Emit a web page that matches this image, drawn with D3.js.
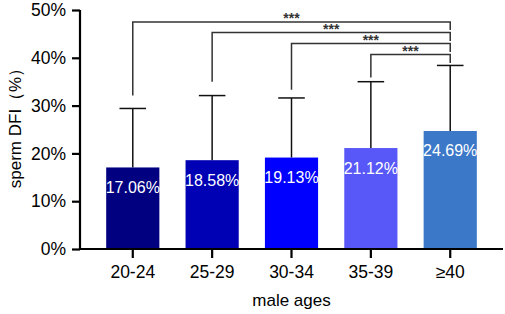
<!DOCTYPE html>
<head>
<meta charset="utf-8">
<title>sperm DFI by male ages</title>
<style>
  body { margin: 0; background: #fff; }
  text { font-family: Arial, "Liberation Sans", sans-serif; }
</style>
</head>
<body>
<svg width="505" height="314"></svg>
<script src="https://d3js.org/d3.v7.min.js"></script>
<script>
const ages = ["20-24", "25-29", "30-34", "35-39", "≥40"];
const dfi = [17.06, 18.58, 19.13, 21.12, 24.69];
const errTop = [29.4, 32.1, 31.6, 35.0, 38.4];
const barColors = ["#000080", "#0000b4", "#0000ff", "#5858f8", "#3b78c8"];
const yTicks = [0, 10, 20, 30, 40, 50];
// each group compared with ≥40, bracket height and left leg bottom (in %)
const comparisons = [
  { from: "20-24", level: 47.5, legEnd: 32.1, label: "***" },
  { from: "25-29", level: 45.3, legEnd: 35.0, label: "***" },
  { from: "30-34", level: 43.0, legEnd: 33.3, label: "***" },
  { from: "35-39", level: 40.7, legEnd: 35.9, label: "***" }
];
const refGroup = "≥40";

const svg = d3.select("svg");

const x = d3.scaleBand().domain(ages).range([80, 503]).padding(0.33);
const y = d3.scaleLinear().domain([0, 50]).range([249, 10]);
const cx = d => x(d) + x.bandwidth() / 2;

const data = ages.map((a, i) => ({ age: a, v: dfi[i], e: errTop[i], c: barColors[i] }));

// error bars (upper only)
const eb = svg.append("g").attr("stroke", "#111").attr("stroke-width", 1.5);
eb.selectAll("line.stem").data(data).join("line")
    .attr("x1", d => cx(d.age)).attr("x2", d => cx(d.age))
    .attr("y1", d => y(d.v)).attr("y2", d => y(d.e));
eb.selectAll("line.cap").data(data).join("line")
    .attr("x1", d => cx(d.age) - x.bandwidth() / 4).attr("x2", d => cx(d.age) + x.bandwidth() / 4)
    .attr("y1", d => y(d.e)).attr("y2", d => y(d.e));

// bars
svg.append("g").selectAll("rect").data(data).join("rect")
    .attr("x", d => x(d.age))
    .attr("y", d => y(d.v))
    .attr("width", x.bandwidth())
    .attr("height", d => y(0) - y(d.v))
    .attr("fill", d => d.c);

svg.append("g").selectAll("text").data(data).join("text")
    .attr("x", d => cx(d.age))
    .attr("y", d => y(d.v) + 25.5)
    .attr("text-anchor", "middle")
    .attr("fill", "#fff")
    .style("font-size", "16px")
    .text(d => d.v.toFixed(2) + "%");

// significance brackets
const br = svg.append("g");
comparisons.forEach((c, i) => {
  const x1 = cx(c.from), x2 = cx(refGroup);
  const yl = y(c.level);
  const rightEnd = i < comparisons.length - 1 ? y(comparisons[i + 1].level) - 2.5 : y(errTop[4]) - 2.5;
  br.append("path")
    .attr("d", `M${x1},${y(c.legEnd)}V${yl}H${x2}V${rightEnd}`)
    .attr("fill", "none")
    .attr("stroke", "#333")
    .attr("stroke-width", 1.5);
  br.append("text")
    .attr("x", (x1 + x2) / 2)
    .attr("y", yl + 1.5)
    .attr("text-anchor", "middle")
    .attr("fill", "#333")
    .style("font-size", "14px")
    .style("font-weight", "bold")
    .text(c.label);
});

// axes
const yAxis = svg.append("g")
    .attr("transform", "translate(80,0)")
    .call(d3.axisLeft(y).tickValues(yTicks).tickSize(8).tickPadding(6).tickFormat(d => d + "%"));
yAxis.select(".domain").attr("d", `M0,${y(0)}V${y(50)}`);

const xAxis = svg.append("g")
    .attr("transform", `translate(0,${y(0)})`)
    .call(d3.axisBottom(x).tickSize(9).tickPadding(8).tickSizeOuter(0));
xAxis.select(".domain").attr("d", "M79,0H503");

svg.selectAll(".domain, .tick line").attr("stroke", "#000").attr("stroke-width", 2.2);
svg.selectAll(".tick text").attr("fill", "#000").style("font-size", "17.5px")
    .style("font-family", "Arial, 'Liberation Sans', sans-serif");

svg.append("text")
    .attr("x", cx("30-34"))
    .attr("y", 306)
    .attr("text-anchor", "middle")
    .style("font-size", "17px")
    .text("male ages");

svg.append("text")
    .attr("transform", "translate(21,124) rotate(-90)")
    .attr("text-anchor", "middle")
    .style("font-size", "17px")
    .text("sperm DFI（%）");
</script>
</body>
